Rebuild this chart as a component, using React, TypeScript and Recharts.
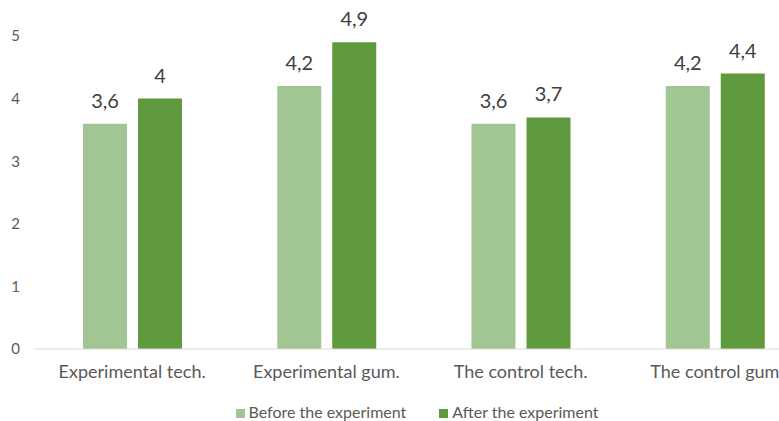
import { Bar, BarChart, LabelList, Legend, XAxis, YAxis } from "recharts";

const groups = [
  "Experimental tech.",
  "Experimental gum.",
  "The control tech.",
  "The control gum",
];
const before = [3.6, 4.2, 3.6, 4.2];
const after = [4, 4.9, 3.7, 4.4];
const yTicks = [0, 1, 2, 3, 4, 5];

const data = groups.map((group, i) => ({
  group,
  before: before[i],
  after: after[i],
}));

const font = "Lato, 'Liberation Sans', sans-serif";
const fmt = (v: any) => String(v).replace(".", ",");
const order = ["before", "after"];

export default function App() {
  return (
    <div
      style={{
        position: "absolute",
        left: 0,
        top: 0,
        width: 779,
        height: 421,
        overflow: "hidden",
        background: "#fff",
        fontFamily: font,
      }}
    >
      <BarChart
        width={838}
        height={421}
        data={data}
        margin={{ top: 36, right: 26, bottom: 0, left: 0 }}
        barSize={44}
        barGap={11}
      >
        <XAxis
          dataKey="group"
          height={53}
          tickSize={0}
          tickMargin={16}
          stroke="#d9d9d9"
          tick={{ fill: "#595959", fontSize: 18, fontFamily: font }}
          interval={0}
        />
        <YAxis
          width={35}
          domain={[0, 5]}
          ticks={yTicks}
          axisLine={false}
          tickLine={false}
          tickSize={0}
          tickMargin={15}
          tick={{ fill: "#595959", fontSize: 15, fontFamily: font }}
        />
        <Legend
          verticalAlign="bottom"
          iconType="square"
          iconSize={9}
          itemSorter={(item: any) => order.indexOf(item.dataKey)}
          wrapperStyle={{
            left: 3,
            width: 838,
            fontSize: 16,
            color: "#595959",
            fontFamily: font,
          }}
          formatter={(value: string, entry: any) => (
            <span
              style={{
                color: "#595959",
                marginRight: entry?.dataKey === "before" ? 23 : 0,
              }}
            >
              {value}
            </span>
          )}
        />
        <Bar
          dataKey="before"
          name="Before the experiment"
          fill="#a2c594"
          isAnimationActive={false}
        >
          <LabelList
            dataKey="before"
            position="top"
            offset={16}
            formatter={fmt}
            style={{ fill: "#404040", fontSize: 20, fontFamily: font }}
          />
        </Bar>
        <Bar
          dataKey="after"
          name="After the experiment"
          fill="#609a3f"
          isAnimationActive={false}
        >
          <LabelList
            dataKey="after"
            position="top"
            offset={16}
            formatter={fmt}
            style={{ fill: "#404040", fontSize: 20, fontFamily: font }}
          />
        </Bar>
      </BarChart>
    </div>
  );
}
